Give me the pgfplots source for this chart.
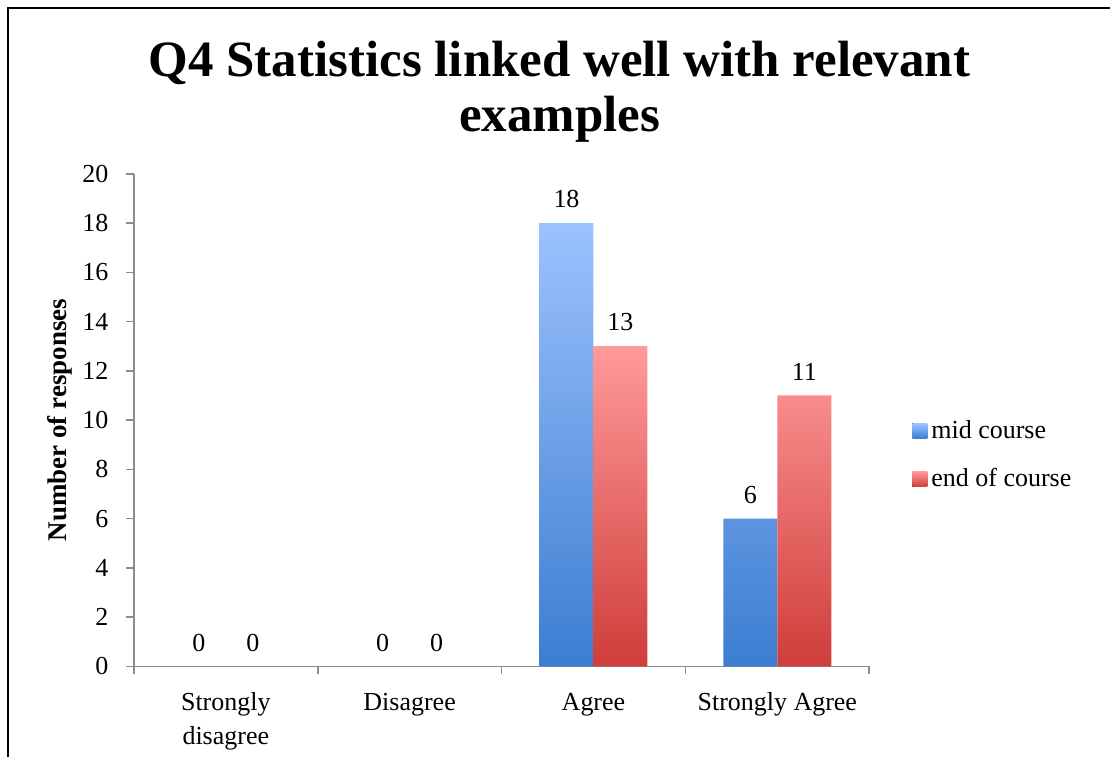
\documentclass[border=0pt]{standalone}
\usepackage{fontspec}
\setmainfont{Liberation Serif}
\usepackage{pgfplots}
\pgfplotsset{compat=1.18}

\definecolor{midtop}{HTML}{9CC2FF}
\definecolor{midbot}{HTML}{3C7DD0}
\definecolor{endtop}{HTML}{FF9A9A}
\definecolor{endbot}{HTML}{CF3D3A}
\definecolor{axgray}{HTML}{8C8C8C}

\newcommand{\lblfont}{\fontsize{13}{17}\selectfont}

\begin{document}
\begin{tikzpicture}
% page area (1px = 0.5pt)
\path (0pt,0pt) rectangle (555.5pt,379pt);
\draw[line width=1pt] (4pt,0pt) -- (4pt,375pt) -- (555.5pt,375pt);

\node[font=\bfseries\fontsize{25.5}{27.5}\selectfont, align=center, anchor=north]
  at (280pt,362pt) {Q4 Statistics linked well with relevant\\examples};

\begin{axis}[
    at={(67pt,45.5pt)}, anchor=south west,
    scale only axis,
    width=368pt, height=246.5pt,
    ybar, bar width=27pt,
    xmin=-0.5, xmax=3.5,
    ymin=0, ymax=20,
    ytick={0,2,...,20},
    xtick={-0.5,0.5,1.5,2.5,3.5},
    x tick label as interval,
    xticklabels={{Strongly\\disagree},Disagree,Agree,{Strongly Agree}},
    axis x line*=bottom, axis y line*=left,
    axis line style={draw=axgray, line width=0.8pt},
    tick style={draw=axgray, line width=0.8pt},
    tick align=outside,
    major tick length=3.75pt,
    /pgf/number format/assume math mode=true,
    tick label style={font=\lblfont},
    xticklabel style={align=center, yshift=-6pt},
    yticklabel style={xshift=-5.5pt},
    ylabel={Number of responses},
    ylabel style={font=\bfseries\fontsize{13.5}{15}\selectfont, at={(axis description cs:-0.1,0.5)}, anchor=center},
    nodes near coords,
    every node near coord/.append style={font=\lblfont, yshift=4pt},
    legend style={at={(axis description cs:1.050,0.429)}, anchor=west, draw=none, fill=none,
        font=\lblfont, row sep=9.5pt, legend cell align=left,
        /tikz/every even column/.append style={column sep=2pt}},
    legend image code/.code={\fill[#1] (0pt,-3.75pt) rectangle (7.5pt,3.75pt);},
]
% bars with a value above zero
\addplot[draw=none, top color=midtop, bottom color=midbot, bar shift=-13.5pt]
  coordinates {(2,18) (3,6)};
\addplot[draw=none, top color=endtop, bottom color=endbot, bar shift=13.5pt]
  coordinates {(2,13) (3,11)};
% zero counts: only their labels show
\addplot[draw=none, fill=none, bar shift=-13.5pt, forget plot]
  coordinates {(0,0) (1,0)};
\addplot[draw=none, fill=none, bar shift=13.5pt, forget plot]
  coordinates {(0,0) (1,0)};
\legend{mid course, end of course}
\end{axis}
\end{tikzpicture}
\end{document}
